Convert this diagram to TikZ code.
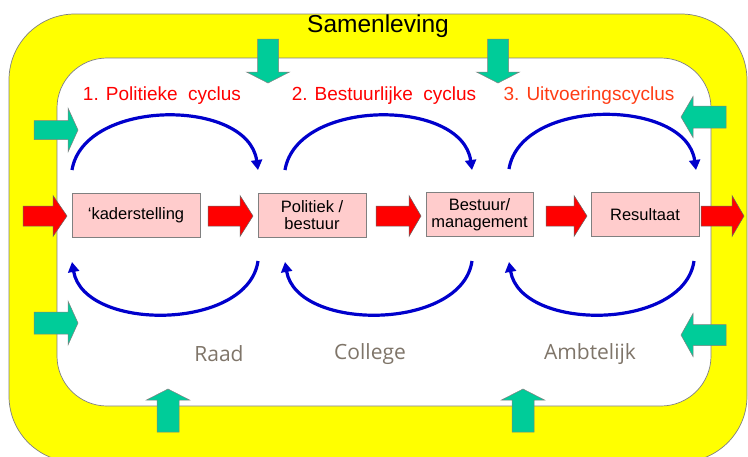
\documentclass[tikz,border=0pt]{standalone}
\usepackage{fontspec}
\setmainfont{Liberation Sans}
\newfontfamily\greyfont{Open Sans}
\usetikzlibrary{arrows.meta,calc}
\definecolor{ring}{RGB}{255,255,0}
\definecolor{ringedge}{RGB}{128,128,128}
\definecolor{boxfill}{RGB}{255,204,204}
\definecolor{boxedge}{RGB}{128,128,128}
\definecolor{arrred}{RGB}{255,0,0}
\definecolor{arrgreen}{RGB}{0,204,153}
\definecolor{cycblue}{RGB}{0,0,204}
\definecolor{titlered}{RGB}{255,0,0}
\definecolor{titleorange}{RGB}{255,60,20}
\definecolor{labelgrey}{RGB}{127,117,105}
\newcommand\HBlk[7]{\draw[#1] (#2,#5-#6) -- (#3,#5-#6) -- (#3,#5-#7) -- (#4,#5) -- (#3,#5+#7) -- (#3,#5+#6) -- (#2,#5+#6) -- cycle;}
\newcommand\VBlk[7]{\draw[#1] (#5-#6,#2) -- (#5-#6,#3) -- (#5-#7,#3) -- (#5,#4) -- (#5+#7,#3) -- (#5+#6,#3) -- (#5+#6,#2) -- cycle;}
\begin{document}
\begin{tikzpicture}[x=1pt,y=-1pt,
  redblk/.style={fill=arrred, draw=black!60, line width=0.5pt},
  greenblk/.style={fill=arrgreen, draw=black!50, line width=0.5pt},
  stepbox/.style={fill=boxfill, draw=boxedge, line width=0.7pt, minimum width=#1, minimum height=44pt, inner sep=0pt, align=center, font=\fontsize{16.5}{16.5}\selectfont},
  title/.style={font=\fontsize{19}{22}\selectfont, anchor=center},
  glabel/.style={font=\greyfont\fontsize{21}{24}\selectfont, text=labelgrey},
  cyc/.style={draw=cycblue, line width=3.2pt, -{Triangle[length=10pt,width=11pt]}}
]
\useasboundingbox (0,0) rectangle (748,456);
\begin{scope}
\clip (0,0) rectangle (748,456);
\draw[fill=ring, draw=ringedge, line width=0.7pt, rounded corners=66pt] (9,14) rectangle (747,462);
\draw[fill=white, draw=ringedge, line width=0.7pt, rounded corners=50pt] (57,58) rectangle (711,406);
\end{scope}

\node[font=\fontsize{24.5}{28}\selectfont] (samen) at (378,26) {Samenleving};

% green arrows
\VBlk{greenblk}{39}{72}{83}{268}{10.5}{21.5}
\VBlk{greenblk}{39}{72}{83}{498}{10.5}{21.5}
\VBlk{greenblk}{432}{400}{389}{168}{11}{21.5}
\VBlk{greenblk}{432}{400}{389}{523}{11}{21.5}
\HBlk{greenblk}{34}{68}{78}{130}{9.5}{22}
\HBlk{greenblk}{34}{68}{78}{323}{11}{22}
\HBlk{greenblk}{726}{693}{681}{117}{11}{20.5}
\HBlk{greenblk}{726}{693}{681}{335}{10.5}{21.5}

% red arrows
\HBlk{redblk}{23}{53}{67}{216}{10}{20.5}
\HBlk{redblk}{208}{240}{253}{216}{10}{20.5}
\HBlk{redblk}{376}{409}{421}{216}{10}{20.5}
\HBlk{redblk}{546}{574}{587}{216}{10}{20.5}
\HBlk{redblk}{701}{732}{744}{216}{10}{20.5}

% boxes
\node[stepbox=128pt] (kader) at (136,215) {\char96 kaderstelling};
\node[stepbox=108pt] (polit) at (312,215) {Politiek /\\bestuur};
\node[stepbox=107pt] (bestuur) at (479.5,214.5) {Bestuur/\\management};
\node[stepbox=108pt] (result) at (645,214.5) {Resultaat};

% titles
\node[title, text=titlered] (t1) at (162,96) {1. Politieke\ \ cyclus};
\node[title, text=titlered] (t2) at (384,96) {2. Bestuurlijke\ \ cyclus};
\node[title, text=titleorange] (t3) at (589,96) {3. Uitvoeringscyclus};

% cycle arcs
\coordinate (u1a) at (72,170); \coordinate (u1b) at (258,170);
\coordinate (u2a) at (285,170); \coordinate (u2b) at (472,170);
\coordinate (u3a) at (509,169); \coordinate (u3b) at (696,170);
\coordinate (l1a) at (258,261); \coordinate (l1b) at (72,262);
\coordinate (l2a) at (472,261); \coordinate (l2b) at (285,262);
\coordinate (l3a) at (694,261); \coordinate (l3b) at (509,262);
\draw[cyc] (u1a) .. controls ($(u1a)+(12,-72)$) and ($(u1b)+(-10,-72)$) .. (u1b);
\draw[cyc] (u2a) .. controls ($(u2a)+(12,-72)$) and ($(u2b)+(-10,-72)$) .. (u2b);
\draw[cyc] (u3a) .. controls ($(u3a)+(12,-72)$) and ($(u3b)+(-10,-72)$) .. (u3b);
\draw[cyc] (l1a) .. controls ($(l1a)+(-10,70)$) and ($(l1b)+(12,70)$) .. (l1b);
\draw[cyc] (l2a) .. controls ($(l2a)+(-10,70)$) and ($(l2b)+(12,70)$) .. (l2b);
\draw[cyc] (l3a) .. controls ($(l3a)+(-10,70)$) and ($(l3b)+(12,70)$) .. (l3b);

% grey labels
\node[glabel] (raad) at (219,354) {Raad};
\node[glabel] (college) at (370,354) {College};
\node[glabel] (ambt) at (590,354) {Ambtelijk};
\end{tikzpicture}
\end{document}
